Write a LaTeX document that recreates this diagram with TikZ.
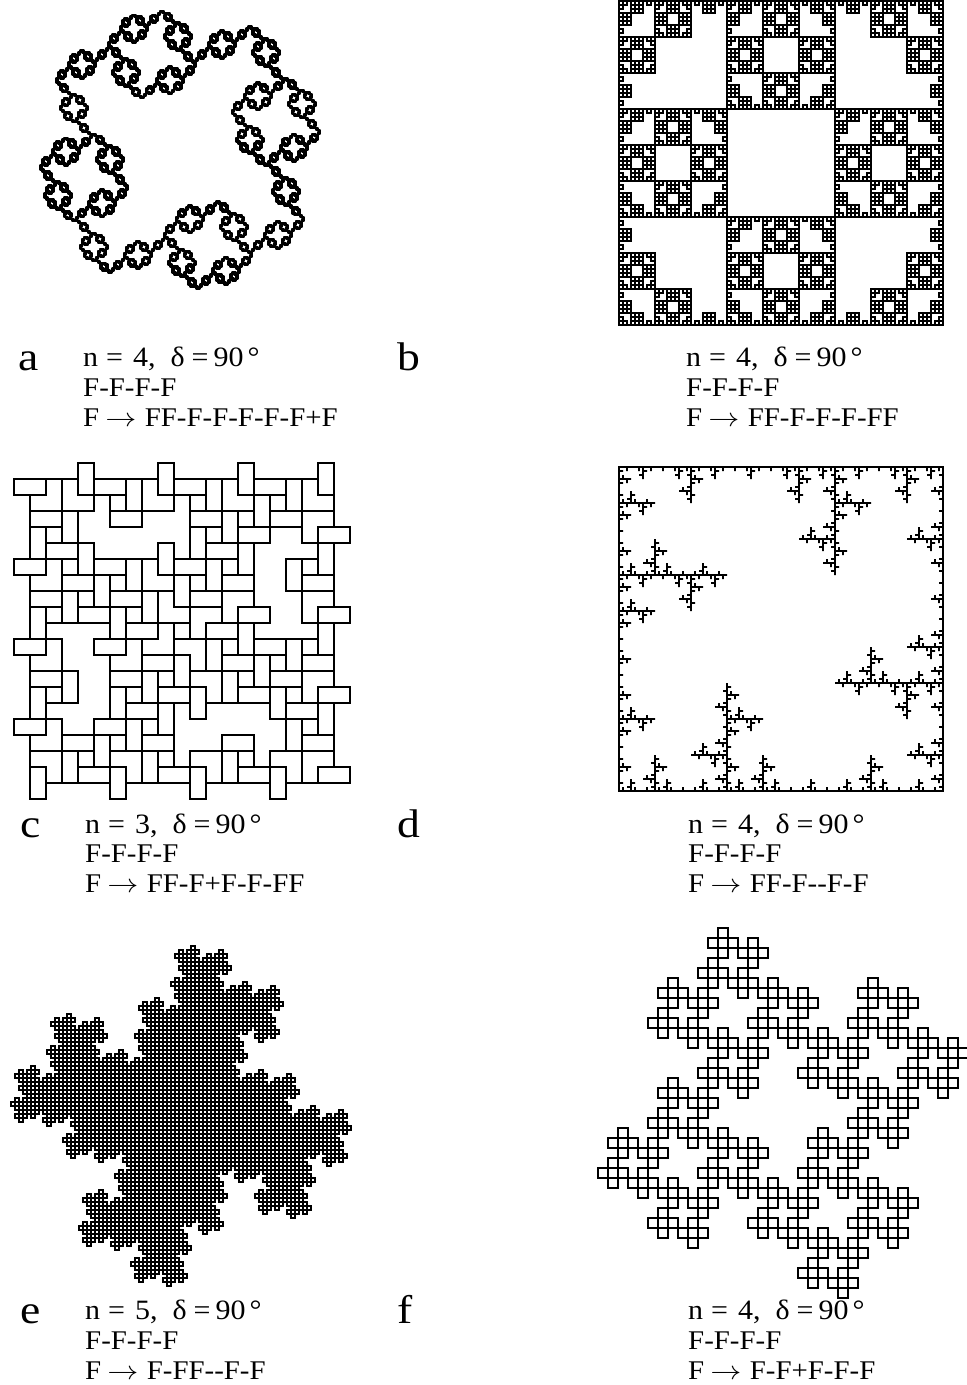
\documentclass[tikz,border=0pt]{standalone}
\usepackage{fontspec}
\usepackage{graphicx}
\setmainfont[FakeStretch=1.07]{Liberation Serif}
\newfontfamily\panelfont[FakeStretch=1.14]{Liberation Serif}
\newcount\tdir \newcount\tlvl
\newdimen\tx \newdimen\ty \newdimen\tstep
\def\tfwd{\ifcase\tdir \advance\tx\tstep \or \advance\ty-\tstep \or \advance\tx-\tstep \or \advance\ty\tstep \fi
  \pgfpathlineto{\pgfqpoint{\tx}{\ty}}}
\def\tR{\advance\tdir 1 \ifnum\tdir=4 \tdir=0 \fi}
\def\tL{\ifnum\tdir=0 \tdir=4 \fi \advance\tdir -1 }
\def\tF{\ifnum\tlvl=0 \tfwd\else\advance\tlvl -1 \Rulebody\advance\tlvl 1 \fi}
\newcommand\turtle[3]{\pgfextra{\tstep=#1pt\relax\tlvl=#2\relax\tx=0pt\ty=0pt\tdir=0\relax
  \def\Rulebody{#3}\pgfpathmoveto{\pgfqpoint{0pt}{0pt}}\tF\tR\tF\tR\tF\tR\tF\pgfpathclose}}
\tikzset{
 capline/.style={anchor=base west,inner sep=0pt,font=\fontsize{27}{30}\selectfont},
 panelname/.style={anchor=base west,inner sep=0pt,font=\fontsize{40}{44}\selectfont\panelfont},
 curve/.style={line width=2pt,line join=miter,black},
}
\newcommand\nd[1]{\fontsize{28}{30}\selectfont n\hspace{8pt}=\hspace{10pt}#1,\hspace{15pt}δ\hspace{7pt}=\hspace{5pt}90\hspace{4pt}°}
\newcommand\ar{\hspace{6pt}\scalebox{1.25}[1.05]{\(\rightarrow\)}\hspace{8.5pt}}
\begin{document}
\begin{tikzpicture}[x=1pt,y=-1pt]
\useasboundingbox (0,0) rectangle (967,1385);
% curves
\draw[curve,line width=2.6pt,line join=round,shift={(248,26.7)},yscale=0.992] \turtle{2}{4}{\tF\tF\tR\tF\tR\tF\tR\tF\tR\tF\tR\tF\tL\tF} ;
\draw[curve,shift={(619,1)}] \turtle{4}{4}{\tF\tF\tR\tF\tR\tF\tR\tF\tR\tF\tF} ;
\draw[curve,shift={(302,671)}] \turtle{16}{3}{\tF\tF\tR\tF\tL\tF\tR\tF\tR\tF\tF} ;
\draw[curve,shift={(619,467)}] \turtle{4}{4}{\tF\tF\tR\tF\tR\tR\tF\tR\tF} ;
\draw[curve,shift={(339,1110)}] \turtle{4}{5}{\tF\tR\tF\tF\tR\tR\tF\tR\tF} ;
\draw[curve,shift={(658,988)}] \turtle{10}{4}{\tF\tR\tF\tL\tF\tR\tF\tR\tF} ;
% panel a
\node[panelname] (pa) at (18,370) {a};
\node[capline] (a1) at (83,366) {\nd{4}};
\node[capline] (a2) at (83,396) {F-F-F-F};
\node[capline] (a3) at (83,426) {F\ar FF-F-F-F-F-F+F};
% panel b
\node[panelname] (pb) at (397,370) {b};
\node[capline] (b1) at (686,366) {\nd{4}};
\node[capline] (b2) at (686,396) {F-F-F-F};
\node[capline] (b3) at (686,426) {F\ar FF-F-F-F-FF};
% panel c
\node[panelname] (pc) at (20,837) {c};
\node[capline] (c1) at (85,833) {\nd{3}};
\node[capline] (c2) at (85,862) {F-F-F-F};
\node[capline] (c3) at (85,892) {F\ar FF-F+F-F-FF};
% panel d
\node[panelname] (pd) at (397,837) {d};
\node[capline] (d1) at (688,833) {\nd{4}};
\node[capline] (d2) at (688,862) {F-F-F-F};
\node[capline] (d3) at (688,892) {F\ar FF-F-{}-F-F};
% panel e
\node[panelname] (pe) at (20,1323) {e};
\node[capline] (e1) at (85,1319) {\nd{5}};
\node[capline] (e2) at (85,1349) {F-F-F-F};
\node[capline] (e3) at (85,1379) {F\ar F-FF-{}-F-F};
% panel f
\node[panelname] (pf) at (397,1323) {f};
\node[capline] (f1) at (688,1319) {\nd{4}};
\node[capline] (f2) at (688,1349) {F-F-F-F};
\node[capline] (f3) at (688,1379) {F\ar F-F+F-F-F};
\end{tikzpicture}
\end{document}
